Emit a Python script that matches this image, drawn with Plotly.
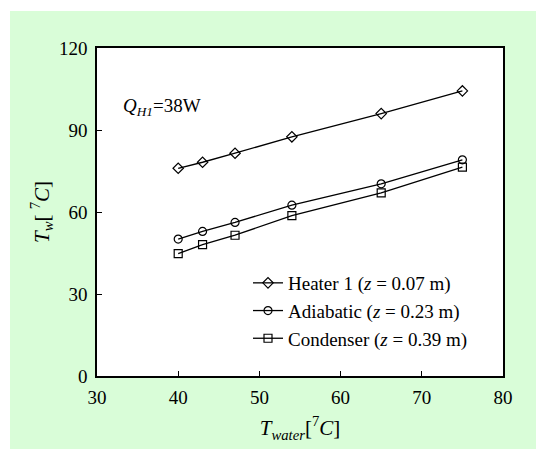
import plotly.graph_objects as go

t_water = [40, 43, 47, 54, 65, 75]
heater1 = [76.0, 78.2, 81.5, 87.5, 96.0, 104.3]
adiabatic = [50.1, 52.9, 56.2, 62.5, 70.3, 79.1]
condenser = [44.8, 48.1, 51.5, 58.7, 67.0, 76.4]
names = ["Heater 1 (<i>z</i> = 0.07 m)", "Adiabatic (<i>z</i> = 0.23 m)", "Condenser (<i>z</i> = 0.39 m)"]
symbols = ["diamond-open", "circle-open", "square-open"]
xticks = [30, 40, 50, 60, 70, 80]
yticks = [0, 30, 60, 90, 120]

FONT = "Liberation Serif"

fig = go.Figure()
for i, (ys, nm, sym) in enumerate(zip([heater1, adiabatic, condenser], names, symbols)):
    fig.add_trace(go.Scatter(
        x=t_water, y=ys, name=nm, mode="lines+markers",
        line=dict(color="black", width=1.3),
        marker=dict(symbol=sym, size=8, color="black", line=dict(width=1.2, color="black")),
        legendgroup=f"g{i}",
    ))

W, H = 536, 449
L, R, T, B = 97, 33, 48, 73
pw, ph = W - L - R, H - T - B

def px2paper_x(px):
    return (px - L) / pw

def px2paper_y(py):
    return (H - B - py) / ph

fig.add_shape(type="rect", xref="paper", yref="paper",
              x0=px2paper_x(10), x1=px2paper_x(W + 5), y0=px2paper_y(H + 5), y1=px2paper_y(11),
              fillcolor="#d9fdd8", line=dict(width=0), layer="below")
fig.add_shape(type="rect", xref="paper", yref="paper",
              x0=0, x1=1, y0=0, y1=1,
              fillcolor="white", line=dict(width=0), layer="below")

fig.add_annotation(x=33.0, y=98.5, xref="x", yref="y", xanchor="left", yanchor="middle",
                   text="<i>Q</i><sub><i>H1</i></sub>=38W", showarrow=False,
                   font=dict(family=FONT, size=19, color="black"))

axis_common = dict(showline=True, mirror=True, linecolor="black", linewidth=1.5,
                   ticks="inside", ticklen=5, tickwidth=1.2, tickcolor="black",
                   showgrid=False, zeroline=False,
                   tickfont=dict(family=FONT, size=19, color="black"))

fig.update_xaxes(range=[30, 80], tickvals=xticks, ticktext=[str(v) for v in xticks],
                 ticklabelstandoff=3,
                 title=dict(text="<i>T</i><sub><i>water</i></sub>[<sup>7</sup><i>C</i>]",
                            font=dict(family=FONT, size=21, color="black"), standoff=14),
                 **axis_common)
fig.update_yaxes(range=[0, 120], tickvals=yticks, ticktext=[str(v) for v in yticks],
                 ticklabelstandoff=4,
                 title=dict(text="<i>T</i><sub><i>w</i></sub>[ <sup>7</sup><i>C</i>]",
                            font=dict(family=FONT, size=21, color="black"), standoff=4),
                 **axis_common)

fig.update_layout(
    width=W, height=H,
    font=dict(family=FONT, color="black"),
    margin=dict(l=L, r=R, t=T, b=B, pad=0),
    paper_bgcolor="white", plot_bgcolor="white",
    showlegend=True,
    legend=dict(x=px2paper_x(248), y=px2paper_y(264), xanchor="left", yanchor="top",
                bgcolor="rgba(0,0,0,0)", borderwidth=0, tracegroupgap=0,
                font=dict(family=FONT, size=19, color="black")),
)

fig.write_html("out.html")
